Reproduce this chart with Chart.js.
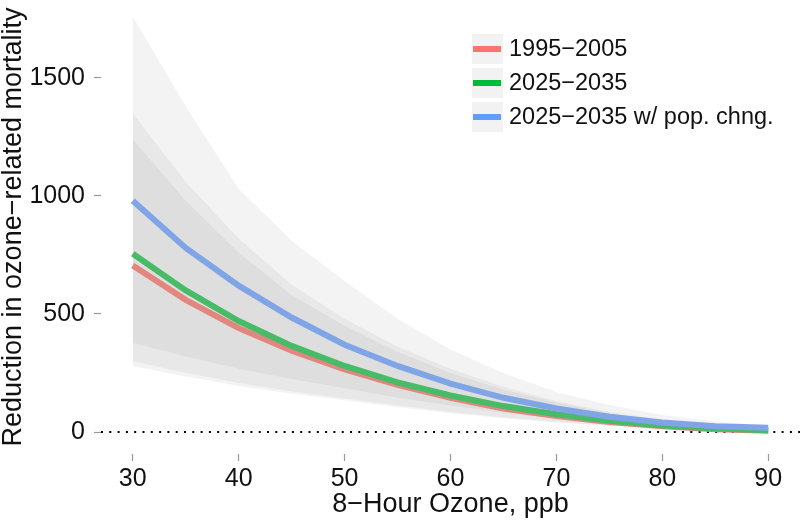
<!DOCTYPE html>
<html>
<head>
<meta charset="utf-8">
<script src="https://cdn.jsdelivr.net/npm/chart.js@4.4.1/dist/chart.umd.min.js"></script>
<style>
  html, body { margin: 0; padding: 0; background: #fff; }
  canvas { display: block; }
</style>
</head>
<body>
<canvas id="c" width="800" height="520"></canvas>
<script>
// ---- Data ----
const ozone = [30, 35, 40, 45, 50, 55, 60, 65, 70, 75, 80, 85, 90];

const seriesNames = ['1995\u22122005', '2025\u22122035', '2025\u22122035 w/ pop. chng.'];

const mort1995 = [705, 560, 440, 345, 265, 200, 145, 100, 68, 42, 25, 12, 5];
const mort2025 = [755, 600, 470, 365, 280, 210, 155, 110, 75, 48, 28, 15, 8];
const mort2025pop = [980, 780, 620, 485, 370, 280, 205, 145, 100, 65, 40, 25, 18];

const low1995 = [280, 235, 195, 162, 135, 105, 80, 58, 40, 26, 15, 7, 3];
const high1995 = [1240, 980, 760, 580, 450, 340, 250, 180, 125, 80, 48, 25, 10];
const low2025 = [300, 250, 208, 172, 142, 112, 85, 62, 43, 28, 16, 8, 3];
const high2025 = [1350, 1060, 820, 625, 480, 362, 268, 192, 132, 86, 52, 28, 12];
const low2025pop = [377, 320, 268, 225, 185, 145, 112, 82, 57, 38, 23, 12, 6];
const high2025pop = [1760, 1380, 1030, 810, 640, 480, 350, 250, 170, 115, 72, 45, 28];

const xTicks = [30, 40, 50, 60, 70, 80, 90];
const yTicks = [0, 500, 1000, 1500];
const zeroLineValue = 0;

// ---- Styles ----
const lineColors = ['#e2877f', '#48bb68', '#7fa5e6'];
const legendColors = ['#F8766D', '#00BA38', '#619CFF'];
const bandFill = 'rgba(0,0,0,0.047)';
const FONT = '"Liberation Sans", Arial, Helvetica, sans-serif';

const pts = (arr) => arr.map((v, i) => ({ x: ozone[i], y: v }));

const datasets = [
  { label: seriesNames[2], data: pts(mort2025pop), borderColor: lineColors[2], borderWidth: 6, pointRadius: 0, fill: false, order: 0, tension: 0 },
  { label: seriesNames[1], data: pts(mort2025), borderColor: lineColors[1], borderWidth: 6, pointRadius: 0, fill: false, order: 1, tension: 0 },
  { label: seriesNames[0], data: pts(mort1995), borderColor: lineColors[0], borderWidth: 6, pointRadius: 0, fill: false, order: 2, tension: 0 },
  // bands (upper filled to lower)
  { label: 'hi3', data: pts(high2025pop), borderWidth: 0, pointRadius: 0, backgroundColor: bandFill, fill: 4, order: 10 },
  { label: 'lo3', data: pts(low2025pop), borderWidth: 0, pointRadius: 0, fill: false, order: 11 },
  { label: 'hi2', data: pts(high2025), borderWidth: 0, pointRadius: 0, backgroundColor: bandFill, fill: 6, order: 12 },
  { label: 'lo2', data: pts(low2025), borderWidth: 0, pointRadius: 0, fill: false, order: 13 },
  { label: 'hi1', data: pts(high1995), borderWidth: 0, pointRadius: 0, backgroundColor: bandFill, fill: 8, order: 14 },
  { label: 'lo1', data: pts(low1995), borderWidth: 0, pointRadius: 0, fill: false, order: 15 }
];

const zeroLinePlugin = {
  id: 'zeroLine',
  beforeDatasetsDraw(chart) {
    const { ctx, chartArea, scales } = chart;
    const y = scales.y.getPixelForValue(zeroLineValue);
    ctx.save();
    ctx.strokeStyle = '#000';
    ctx.lineWidth = 2;
    ctx.setLineDash([2, 6.3]);
    ctx.beginPath();
    ctx.moveTo(chartArea.left, y);
    ctx.lineTo(chartArea.right, y);
    ctx.stroke();
    ctx.restore();
  }
};

const legendPlugin = {
  id: 'customLegend',
  afterDraw(chart) {
    const ctx = chart.ctx;
    const keyX = 472, keyW = 31, keyH = 30, top0 = 34, step = 34;
    ctx.save();
    ctx.font = '23.5px ' + FONT;
    ctx.textBaseline = 'middle';
    ctx.textAlign = 'left';
    seriesNames.forEach((name, i) => {
      const top = top0 + i * step;
      ctx.fillStyle = '#f2f2f2';
      ctx.fillRect(keyX, top, keyW, keyH);
      ctx.strokeStyle = legendColors[i];
      ctx.lineWidth = 6;
      ctx.beginPath();
      ctx.moveTo(keyX + 1, top + keyH / 2);
      ctx.lineTo(keyX + keyW - 2, top + keyH / 2);
      ctx.stroke();
      ctx.fillStyle = '#111';
      ctx.fillText(name, 509, top + keyH / 2 + 1);
    });
    ctx.restore();
  }
};

new Chart(document.getElementById('c'), {
  type: 'line',
  data: { datasets },
  plugins: [zeroLinePlugin, legendPlugin],
  options: {
    responsive: false,
    animation: false,
    devicePixelRatio: 1,
    layout: { padding: 0 },
    plugins: { legend: { display: false }, tooltip: { enabled: false } },
    scales: {
      x: {
        type: 'linear',
        min: 27,
        max: 93,
        afterBuildTicks: (s) => { s.ticks = xTicks.map(v => ({ value: v })); },
        afterFit: (s) => { s.height = 66; s.paddingLeft = 0; s.paddingRight = 0; },
        grid: { drawOnChartArea: false, drawTicks: true, tickLength: 7, tickColor: '#999', tickWidth: 1.2 },
        border: { display: false },
        ticks: { font: { family: FONT, size: 25, lineHeight: 1.2 }, color: '#111', padding: 3, maxRotation: 0, autoSkip: false, callback: (v) => String(v) },
        title: { display: true, text: '8\u2212Hour Ozone, ppb', font: { family: FONT, size: 27, lineHeight: 1 }, color: '#111', padding: { top: 0, bottom: 2 } }
      },
      y: {
        type: 'linear',
        min: -93,
        max: 1830,
        afterBuildTicks: (s) => { s.ticks = yTicks.map(v => ({ value: v })); },
        afterFit: (s) => { s.width = 101; s.paddingTop = 0; s.paddingBottom = 0; },
        grid: { drawOnChartArea: false, drawTicks: true, tickLength: 7, tickColor: '#999', tickWidth: 1.2 },
        border: { display: false },
        ticks: { font: { family: FONT, size: 25 }, color: '#111', padding: 9, autoSkip: false, callback: (v) => String(v) },
        title: { display: true, text: 'Reduction in ozone\u2212related mortality', font: { family: FONT, size: 27, lineHeight: 1 }, color: '#111', padding: 0 }
      }
    }
  }
});
</script>
</body>
</html>
